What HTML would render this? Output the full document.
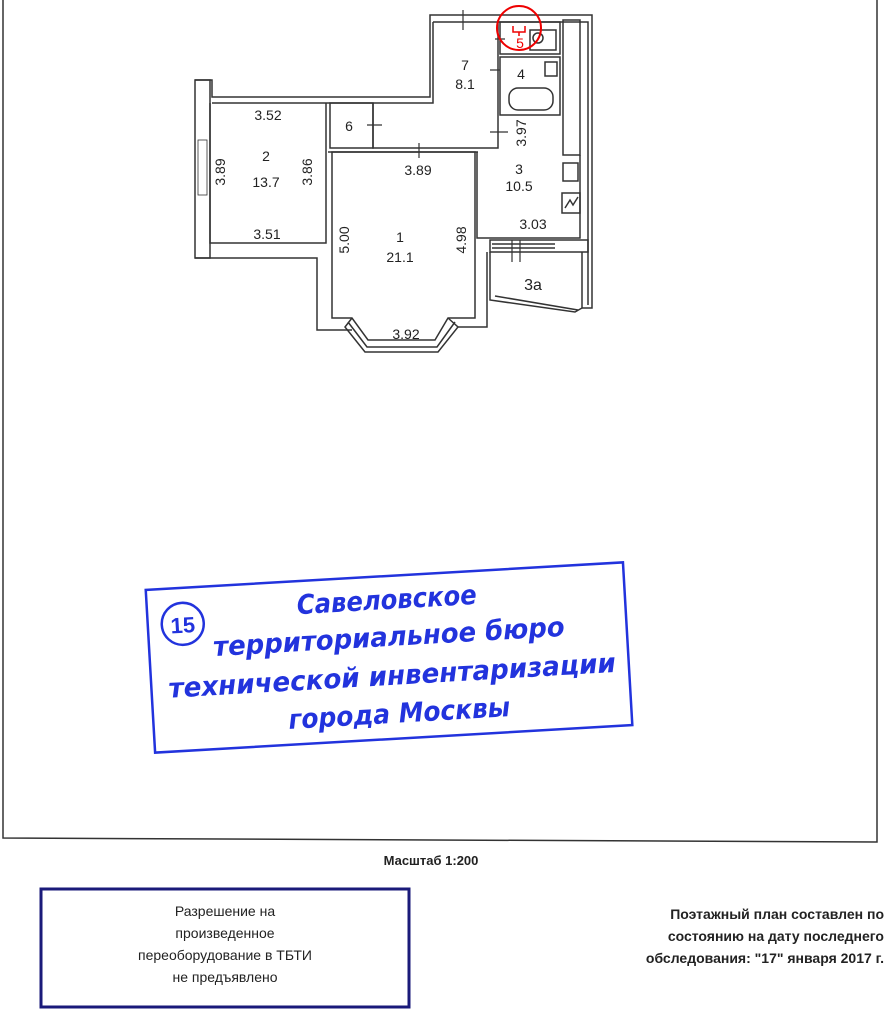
<!DOCTYPE html>
<html><head><meta charset="utf-8"><style>
html,body{margin:0;padding:0;background:#fff;width:892px;height:1024px;overflow:hidden}
svg{display:block}
</style></head><body>
<svg width="892" height="1024" viewBox="0 0 892 1024" xmlns="http://www.w3.org/2000/svg">
<rect width="892" height="1024" fill="#fff"/>
<path d="M3 0 L3 838 L877 842 L877 0" fill="none" stroke="#333" stroke-width="1.5"/>

<g fill="none" stroke="#333" stroke-width="1.5">
<path d="M195 80 L212 80 L212 97 L430 97 L430 15 L592 15 L592 308 L582 308"/>
<path d="M433 22 L433 103 L212 103"/>
<path d="M433 22 L588 22 L588 305"/>
<rect x="195" y="80" width="15" height="178"/>
<rect x="198" y="140" width="9" height="55" stroke-width="0.8"/>
<path d="M210 103 L210 243 L326 243 L326 103"/>
<path d="M195 258 L317 258 L317 330 L352 330"/>
<path d="M332 152 L332 318 L352 318 L368 340 L435 340 L448 318 L475 318 L475 152 Z"/>
<path d="M352 318 L345 327 L365 352 L438 352 L458 327 L448 318"/>
<path d="M348 322 L367 347 L437 347 L455 322"/>
<path d="M458 327 L487 327 L487 252"/>
<rect x="330" y="103" width="43" height="45"/>
<path d="M373 103 L373 148 L498 148 L498 20"/>
<path d="M328 152 L478 152"/>
<rect x="500" y="22" width="60" height="32"/>
<rect x="500" y="57" width="60" height="58"/>
<rect x="563" y="20" width="17" height="135"/>
<rect x="509" y="88" width="44" height="22" rx="9"/>
<rect x="545" y="62" width="12" height="14"/>
<rect x="530" y="30" width="26" height="20"/>
<circle cx="538" cy="38" r="5"/>
<path d="M477 152 L477 238 L580 238 L580 155"/>
<rect x="563" y="163" width="15" height="18"/>
<rect x="562" y="193" width="18" height="20"/>
<path d="M565 208 L570 200 L573 205 L578 197"/>
<rect x="490" y="240" width="98" height="12"/>
<path d="M492 244 L555 244 M492 248 L555 248"/>
<path d="M490 252 L490 300 L575 312 L582 308 L582 252"/>
<path d="M495 296 L578 310"/>
</g>
<g stroke="#333" stroke-width="1.2">
<path d="M463 10 L463 30 M495 39 L505 39 M490 70 L500 70 M490 132 L508 132 M367 125 L382 125 M419 143 L419 158 M512 240 L512 262 M520 240 L520 262"/>
</g>
<g font-family="Liberation Sans, sans-serif" font-size="14" fill="#222" text-anchor="middle">
<text x="268" y="120">3.52</text>
<text x="266" y="161">2</text>
<text x="266" y="187">13.7</text>
<text x="267" y="239">3.51</text>
<text x="349" y="131">6</text>
<text x="465" y="70">7</text>
<text x="465" y="89">8.1</text>
<text x="521" y="79">4</text>
<text x="418" y="175">3.89</text>
<text x="400" y="242">1</text>
<text x="400" y="262">21.1</text>
<text x="406" y="339">3.92</text>
<text x="519" y="174">3</text>
<text x="519" y="191">10.5</text>
<text x="533" y="229">3.03</text>
<text x="533" y="290" font-size="16">3a</text>
<text transform="translate(225 172) rotate(-90)">3.89</text>
<text transform="translate(312 172) rotate(-90)">3.86</text>
<text transform="translate(349 240) rotate(-90)">5.00</text>
<text transform="translate(466 240) rotate(-90)">4.98</text>
<text transform="translate(526 133) rotate(-90)">3.97</text>
</g>
<circle cx="519" cy="28" r="22" fill="none" stroke="#e00" stroke-width="2"/>
<text x="520" y="48" font-family="Liberation Sans, sans-serif" font-size="14" fill="#e00" text-anchor="middle">5</text>
<path d="M513 26 L513 32 L525 32 L525 26 M519 32 L519 36" stroke="#e00" fill="none" stroke-width="1.5"/>

<g transform="rotate(-3.3 389 657)">
<rect x="150" y="576" width="478" height="163" fill="none" stroke="#2233dd" stroke-width="2.5"/>
<circle cx="185" cy="612" r="21" fill="none" stroke="#2233dd" stroke-width="2.5"/>
<text x="185" y="621" font-family="Liberation Sans, sans-serif" font-weight="bold" font-size="22" fill="#2233dd" text-anchor="middle">15</text>
<g font-family="DejaVu Sans, Liberation Sans, sans-serif" font-weight="bold" font-style="italic" font-size="27" fill="#2233dd">
<text x="300" y="609" textLength="180" lengthAdjust="spacingAndGlyphs">Савеловское</text>
<text x="214" y="646" textLength="352" lengthAdjust="spacingAndGlyphs">территориальное бюро</text>
<text x="167" y="685" textLength="448" lengthAdjust="spacingAndGlyphs">технической инвентаризации</text>
<text x="285" y="723" textLength="222" lengthAdjust="spacingAndGlyphs">города Москвы</text>
</g>
</g>

<text x="431" y="865" font-family="Liberation Sans, sans-serif" font-weight="bold" font-size="13" fill="#222" text-anchor="middle">Масштаб 1:200</text>
<rect x="41" y="889" width="368" height="118" fill="none" stroke="#1a1a7a" stroke-width="3"/>
<g font-family="Liberation Sans, sans-serif" font-size="14" fill="#222" text-anchor="middle">
<text x="225" y="916">Разрешение на</text>
<text x="225" y="938">произведенное</text>
<text x="225" y="960">переоборудование в ТБТИ</text>
<text x="225" y="982">не предъявлено</text>
</g>
<g font-family="Liberation Sans, sans-serif" font-weight="bold" font-size="14" fill="#222" text-anchor="end">
<text x="884" y="919">Поэтажный план составлен по</text>
<text x="884" y="941">состоянию на дату последнего</text>
<text x="884" y="963">обследования: "17" января 2017 г.</text>
</g>
</svg>
</body></html>
